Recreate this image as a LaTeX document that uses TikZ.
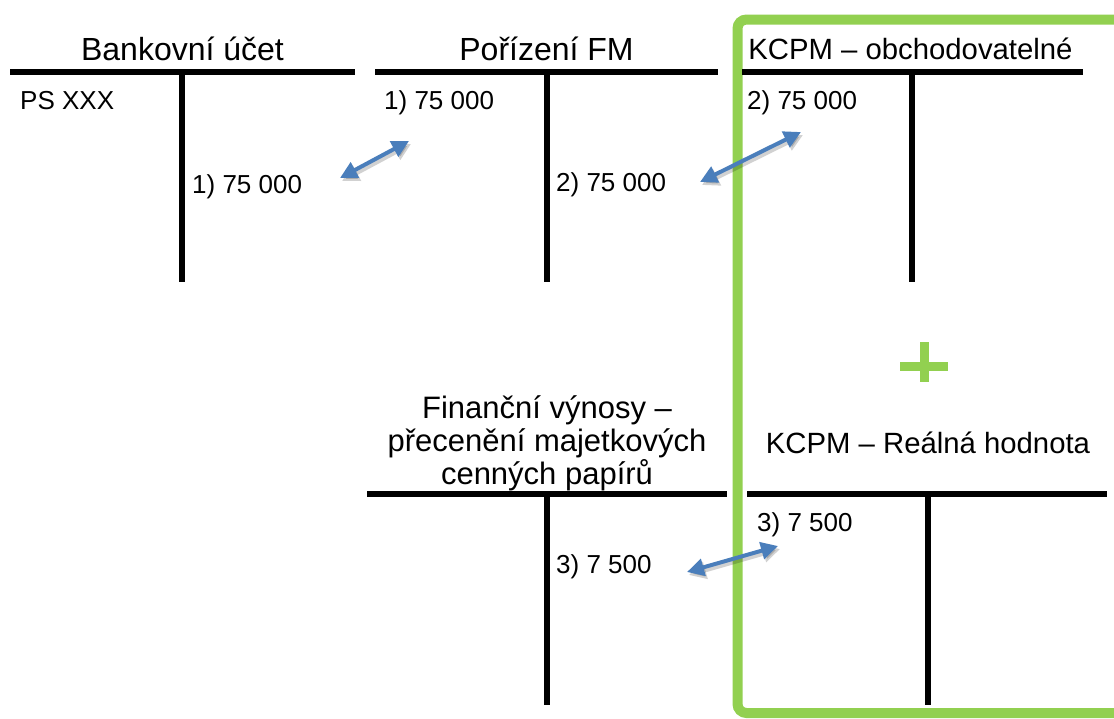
\documentclass[tikz,border=0pt]{standalone}
\usepackage{fontspec}
\setmainfont{Liberation Sans}
\usetikzlibrary{arrows.meta}
\definecolor{tgreen}{HTML}{92D050}
\definecolor{tblue}{HTML}{4A7EBB}
\begin{document}
\begin{tikzpicture}[x=1pt,y=-1pt,
  title/.style={inner sep=0pt,anchor=base,font=\fontsize{32}{32.5}\selectfont},
  ftitle/.style={inner sep=0pt,align=center,anchor=north,font=\fontsize{31}{33}\selectfont},
  stitle/.style={inner sep=0pt,anchor=base,font=\fontsize{29.3}{32}\selectfont},
  entry/.style={inner sep=0pt,anchor=base west,font=\fontsize{26}{30}\selectfont},
  tline/.style={line width=5.5pt},
  link/.style={tblue,line width=4pt,{Triangle[length=17pt,width=17pt]}-{Triangle[length=17pt,width=17pt]}},
  linkshadow/.style={black,opacity=0.18,line width=4pt,{Triangle[length=17pt,width=17pt]}-{Triangle[length=17pt,width=17pt]}}
]
\useasboundingbox (0,0) rectangle (1114,718);
\clip (0,0) rectangle (1114,718);
\fill[white] (0,0) rectangle (1114,718);

% green frame
\draw[tgreen,line width=10pt,rounded corners=9pt] (737.5,19.5) rectangle (1140,713);
% plus
\fill[tgreen] (900,362) rectangle (948,371);
\fill[tgreen] (919.5,342) rectangle (928.5,382);

% T accounts
\draw[tline] (10,72) -- (355,72);
\draw[tline] (182,72) -- (182,282);
\draw[tline] (375,72) -- (718,72);
\draw[tline] (547,72) -- (547,282);
\draw[tline] (742,72) -- (1083,72);
\draw[tline] (912,72) -- (912,282);
\draw[tline] (367,494) -- (727,494);
\draw[tline] (547,494) -- (547,705);
\draw[tline] (747,494) -- (1107,494);
\draw[tline] (928,494) -- (928,705);

% titles
\node[title] (t1) at (182.5,60) {Bankovní účet};
\node[title] (t2) at (546.5,60) {Pořízení FM};
\node[stitle] (t3) at (910.5,59) {KCPM – obchodovatelné};
\node[ftitle] (t4) at (547,395) {Finanční výnosy –\\přecenění majetkových\\cenných papírů};
\node[stitle] (t5) at (928,453) {KCPM – Reálná hodnota};

% entries
\node[entry] (e1) at (20,109) {PS XXX};
\node[entry] (e2) at (192,193) {1) 75 000};
\node[entry] (e3) at (384,109) {1) 75 000};
\node[entry] (e4) at (556,191) {2) 75 000};
\node[entry] (e5) at (747,109) {2) 75 000};
\node[entry] (e6) at (556,573) {3) 7 500};
\node[entry] (e7) at (757,531) {3) 7 500};

% arrow ends
\coordinate (a1s) at (340,178);
\coordinate (a1e) at (409,141);
\coordinate (a2s) at (700,182);
\coordinate (a2e) at (801,132);
\coordinate (a3s) at (687,572);
\coordinate (a3e) at (778,546);
\coordinate (a1ss) at (342,181);
\coordinate (a1es) at (411,144);
\coordinate (a2ss) at (702,185);
\coordinate (a2es) at (803,135);
\coordinate (a3ss) at (689,575);
\coordinate (a3es) at (780,549);

\draw[linkshadow] (a1ss) -- (a1es);
\draw[linkshadow] (a2ss) -- (a2es);
\draw[linkshadow] (a3ss) -- (a3es);
\draw[link] (a1s) -- (a1e);
\draw[link] (a2s) -- (a2e);
\draw[link] (a3s) -- (a3e);
\end{tikzpicture}
\end{document}
